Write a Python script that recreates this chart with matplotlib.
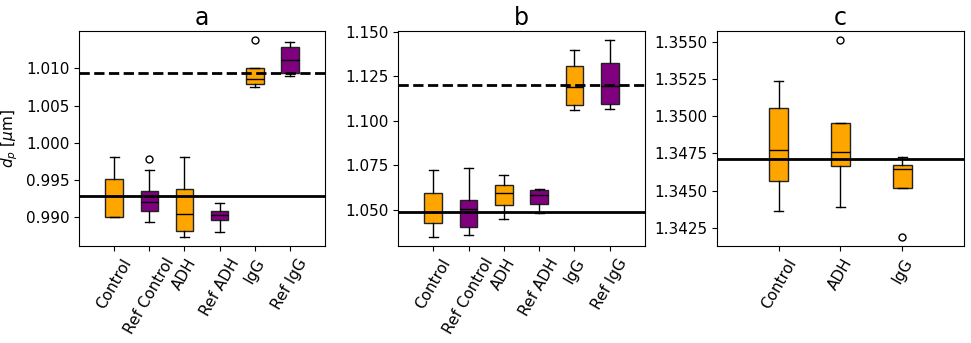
import numpy as np
import matplotlib
matplotlib.use("Agg")
import matplotlib.pyplot as plt

FONT_SIZE = 11
plt.rcParams.update({'font.size': FONT_SIZE})

ORANGE = '#FFA500'
PURPLE = '#800080'

# panel a
labels_a = ["Control", "Ref Control", "ADH", "Ref ADH", "IgG", "Ref IgG"]
med_a = [0.99290, 0.99205, 0.99044, 0.99027, 1.00852, 1.01107]
q1_a = [0.99008, 0.99085, 0.98820, 0.98960, 1.00793, 1.00941]
q3_a = [0.99514, 0.99353, 0.99384, 0.99089, 1.01008, 1.01290]
lo_a = [0.99000, 0.98937, 0.98736, 0.98799, 1.00745, 1.00893]
hi_a = [0.99813, 0.99631, 0.99813, 0.99192, 1.01008, 1.01357]
fl_a = [[], [0.99782], [], [], [1.01376], []]
ref_a = 0.99290
ref_dash_a = 1.00941

# panel b
labels_b = ["Control", "Ref Control", "ADH", "Ref ADH", "IgG", "Ref IgG"]
med_b = [1.04888, 1.05056, 1.05936, 1.05824, 1.11882, 1.11937]
q1_b = [1.04271, 1.04029, 1.05299, 1.05336, 1.10872, 1.10962]
q3_b = [1.05936, 1.05561, 1.06419, 1.06140, 1.13076, 1.13227]
lo_b = [1.03486, 1.03581, 1.04478, 1.04813, 1.10625, 1.10681]
hi_b = [1.07227, 1.07373, 1.06946, 1.06160, 1.13991, 1.14518]
fl_b = [[], [], [], [], [], []]
ref_b = 1.04888
ref_dash_b = 1.11993

# panel c
labels_c = ["Control", "ADH", "IgG"]
med_c = [1.34776, 1.34762, 1.34644]
q1_c = [1.34564, 1.34666, 1.34516]
q3_c = [1.35057, 1.34955, 1.34675]
lo_c = [1.34366, 1.34391, 1.34516]
hi_c = [1.35236, 1.34955, 1.34728]
fl_c = [[], [1.35509], [1.34190]]
ref_c = 1.34713


def draw_panel(ax, labels, med, q1, q3, lo, hi, fl, colors):
    stats = []
    for i in range(len(labels)):
        stats.append(dict(med=med[i], q1=q1[i], q3=q3[i], whislo=lo[i],
                          whishi=hi[i], fliers=fl[i], label=labels[i]))
    bp = ax.bxp(stats, patch_artist=True,
                medianprops=dict(color='black', linewidth=1),
                boxprops=dict(edgecolor='#222222'),
                flierprops=dict(marker='o', markerfacecolor='none',
                                markeredgecolor='black', markersize=5))
    for patch, c in zip(bp['boxes'], colors):
        patch.set_facecolor(c)
    ax.set_xlim(0, len(labels) + 1)
    ax.tick_params(axis='x', labelrotation=60)


fig = plt.figure(figsize=(9.71, 3.43), dpi=100)
ax_a = fig.add_axes([0.0814, 0.2828, 0.2533, 0.6268])
ax_b = fig.add_axes([0.4099, 0.2828, 0.2544, 0.6268])
ax_c = fig.add_axes([0.7384, 0.2828, 0.2544, 0.6268])

alt = [ORANGE, PURPLE] * 3
draw_panel(ax_a, labels_a, med_a, q1_a, q3_a, lo_a, hi_a, fl_a, alt)
ax_a.axhline(ref_a, color='black', linewidth=2)
ax_a.axhline(ref_dash_a, color='black', linewidth=2, linestyle='--')
ax_a.set_ylim(0.98615, 1.0150)
ax_a.set_yticks([0.990, 0.995, 1.000, 1.005, 1.010])
ax_a.yaxis.set_major_formatter(matplotlib.ticker.FormatStrFormatter('%.3f'))
ax_a.set_ylabel(r'$d_p$ [$\mu$m]')
ax_a.set_title('a', fontsize=17, pad=4)

draw_panel(ax_b, labels_b, med_b, q1_b, q3_b, lo_b, hi_b, fl_b, alt)
ax_b.axhline(ref_b, color='black', linewidth=2)
ax_b.axhline(ref_dash_b, color='black', linewidth=2, linestyle='--')
ax_b.set_ylim(1.0298, 1.1504)
ax_b.set_yticks([1.050, 1.075, 1.100, 1.125, 1.150])
ax_b.yaxis.set_major_formatter(matplotlib.ticker.FormatStrFormatter('%.3f'))
ax_b.set_title('b', fontsize=17, pad=4)

draw_panel(ax_c, labels_c, med_c, q1_c, q3_c, lo_c, hi_c, fl_c, [ORANGE] * 3)
ax_c.axhline(ref_c, color='black', linewidth=2)
ax_c.set_ylim(1.34129, 1.35572)
ax_c.set_yticks([1.3425, 1.3450, 1.3475, 1.3500, 1.3525, 1.3550])
ax_c.yaxis.set_major_formatter(matplotlib.ticker.FormatStrFormatter('%.4f'))
ax_c.set_title('c', fontsize=17, pad=4)

fig.savefig("out.png", dpi=100)
